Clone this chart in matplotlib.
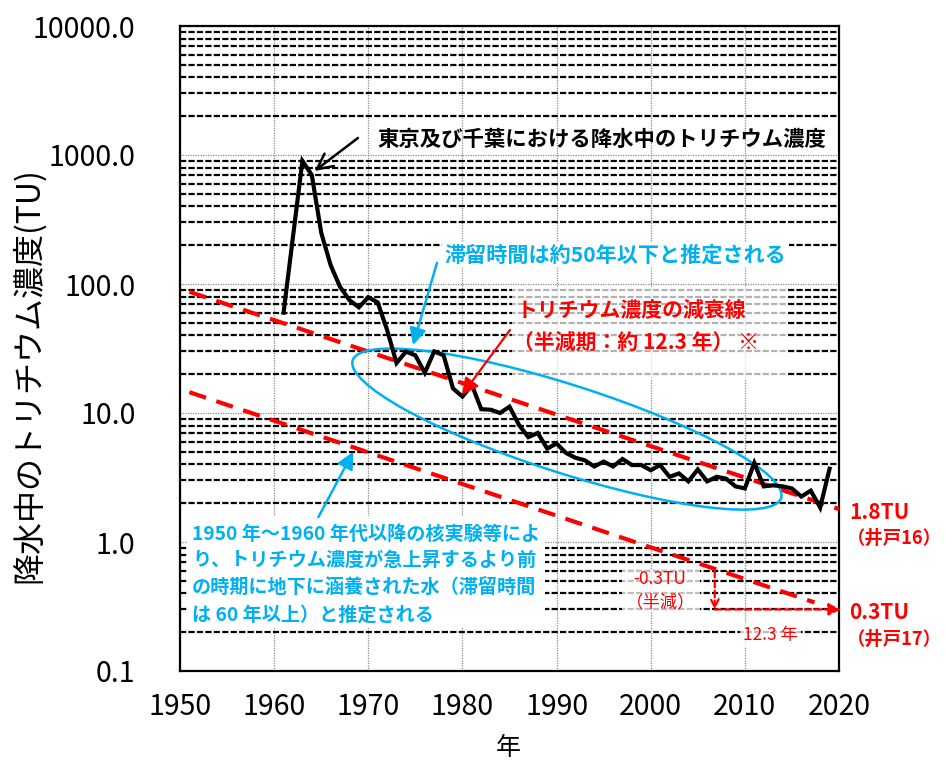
import numpy as np
import matplotlib
matplotlib.use('Agg')
import matplotlib.pyplot as plt
from matplotlib.patches import Ellipse, Rectangle
from matplotlib.transforms import IdentityTransform
from matplotlib.ticker import FixedLocator, FixedFormatter, NullFormatter, LogLocator

plt.rcParams['font.family'] = ['Noto Sans CJK JP', 'DejaVu Sans']

# ---- data ----
years = [1961, 1963, 1964, 1965, 1966, 1967, 1968, 1969, 1970, 1971,
         1972, 1973, 1974, 1975, 1976, 1977, 1978, 1979, 1980, 1981,
         1982, 1983, 1984, 1985, 1986, 1987, 1988, 1989, 1990, 1991,
         1992, 1993, 1994, 1995, 1996, 1997, 1998, 1999, 2000, 2001,
         2002, 2003, 2004, 2005, 2006, 2007, 2008, 2009, 2010, 2011,
         2012, 2013, 2014, 2015, 2016, 2017, 2018, 2019]
tritium = [60, 900, 700, 250, 140, 95, 75, 66, 79, 72,
           44, 24.4, 29.9, 28, 20.5, 30, 28, 15.5, 13.4, 16.5,
           10.7, 10.6, 10.0, 11.2, 8.1, 6.5, 7.0, 5.3, 5.8, 4.9,
           4.5, 4.3, 3.85, 4.2, 3.85, 4.4, 3.95, 3.95, 3.6, 3.95,
           3.2, 3.4, 2.95, 3.65, 2.95, 3.2, 3.1, 2.7, 2.6, 4.1,
           2.7, 2.75, 2.7, 2.6, 2.25, 2.5, 1.85, 3.7]

decay16_years = [1951, 2020]
decay16_tu = [87, 1.8]
decay17_years = [1951, 2017.4]
decay17_tu = [14.5, 0.34]

ytick_vals = [0.1, 1, 10, 100, 1000, 10000]
ytick_labels = ["0.1", "1.0", "10.0", "100.0", "1000.0", "10000.0"]
xtick_vals = [1950, 1960, 1970, 1980, 1990, 2000, 2010, 2020]
xtick_labels = ["1950", "1960", "1970", "1980", "1990", "2000", "2010", "2020"]

BLUE = '#00B0F0'
RED = '#FF0000'

W, H = 946, 763
fig = plt.figure(figsize=(W / 100, H / 100), dpi=100)
ax = fig.add_axes([180 / W, 1 - 671 / H, (839 - 180) / W, (671 - 26) / H])
ax.set_yscale('log')
ax.set_xlim(1950, 2020)
ax.set_ylim(0.1, 10000)

ax.yaxis.set_major_locator(FixedLocator(ytick_vals))
ax.yaxis.set_major_formatter(FixedFormatter(ytick_labels))
ax.yaxis.set_minor_locator(LogLocator(base=10, subs=np.arange(2, 10)))
ax.yaxis.set_minor_formatter(NullFormatter())
ax.xaxis.set_major_locator(FixedLocator(xtick_vals))
ax.xaxis.set_major_formatter(FixedFormatter(xtick_labels))

ax.tick_params(axis='both', which='both', length=0)
ax.tick_params(axis='y', pad=32, labelsize=20.5)
ax.tick_params(axis='x', pad=15, labelsize=20.5)

ax.set_axisbelow(True)
ax.grid(which='minor', axis='y', color='black', linestyle=(0, (2.8, 1.0)), lw=1.6)
ax.grid(which='major', axis='y', color='#888888', linestyle=(0, (1, 1)), lw=0.9)
ax.grid(which='major', axis='x', color='#888888', linestyle=(0, (1, 1)), lw=0.9)
for s in ax.spines.values():
    s.set_linewidth(1.6)
    s.set_color('black')

# decay lines
ax.plot(decay16_years, decay16_tu, color=RED, lw=3, linestyle=(0, (4.2, 2.6)), zorder=3)
ax.plot(decay17_years, decay17_tu, color=RED, lw=3, linestyle=(0, (4.2, 2.6)), zorder=3)

# data line
ax.plot(years, tritium, color='black', lw=3, zorder=5, solid_joinstyle='miter')

# white box behind lower-left note
ax.add_patch(Rectangle((1950.7, 0.215), 1988.8 - 1950.7, 1.58 - 0.215,
                       facecolor='white', edgecolor='none', zorder=2))
note_lines = ["1950 年～1960 年代以降の核実験等によ",
              "り、トリチウム濃度が急上昇するより前",
              "の時期に地下に涵養された水（滞留時間",
              "は 60 年以上）と推定される"]
note_y = [1.15, 0.72, 0.44, 0.272]
for t, yv in zip(note_lines, note_y):
    ax.text(1951.3, yv, t, color=BLUE, fontsize=13.8, fontweight='bold',
            va='center', ha='left', zorder=6)

# red text box
ax.add_patch(Rectangle((1985.3, 18.5), 2014.5 - 1985.3, 94.5 - 18.5,
                       facecolor='white', edgecolor='none', alpha=0.7, zorder=2))
ax.text(1985.8, 62.8, "トリチウム濃度の減衰線", color=RED, fontsize=15,
        fontweight='bold', va='center', ha='left', zorder=6)
ax.text(1985.4, 35.5, "（半減期：約 12.3 年） ※", color=RED, fontsize=15,
        fontweight='bold', va='center', ha='left', zorder=6)

# black title annotation
ax.text(1971.0, 1330, "東京及び千葉における降水中のトリチウム濃度", color='black',
        fontsize=15.4, fontweight='bold', va='center', ha='left', zorder=6)
ax.annotate('', xy=(1964.3, 752), xytext=(1968.9, 1355),
            arrowprops=dict(arrowstyle='->', color='black', lw=1.8,
                            mutation_scale=28, shrinkA=0, shrinkB=0), zorder=6)

# blue retention-time annotation
ax.text(1978.1, 168, "滞留時間は約50年以下と推定される", color=BLUE, fontsize=15.2,
        fontweight='bold', va='center', ha='left', zorder=6,
        bbox=dict(facecolor='white', edgecolor='none', pad=2))
ax.annotate('', xy=(1974.75, 33.6), xytext=(1977.3, 146),
            arrowprops=dict(arrowstyle='-|>', color=BLUE, lw=1.8,
                            mutation_scale=25, shrinkA=0, shrinkB=0), zorder=6)
ax.annotate('', xy=(1968.4, 5.0), xytext=(1964.7, 1.56),
            arrowprops=dict(arrowstyle='-|>', color=BLUE, lw=1.8,
                            mutation_scale=25, shrinkA=0, shrinkB=0), zorder=6)
ax.annotate('', xy=(1979.95, 13.8), xytext=(1985.05, 44),
            arrowprops=dict(arrowstyle='-|>', color=RED, lw=1.6,
                            mutation_scale=25, shrinkA=0, shrinkB=0), zorder=6)

# half-life illustration
ax.annotate('', xy=(2006.8, 0.3), xytext=(2006.8, 0.6),
            arrowprops=dict(arrowstyle='->', color=RED, lw=1.6, linestyle=(0, (3, 1.5)),
                            mutation_scale=14, shrinkA=0, shrinkB=0), zorder=6)
ax.annotate('', xy=(2020.2, 0.3), xytext=(2006.8, 0.3),
            arrowprops=dict(arrowstyle='-|>', color=RED, lw=1.6, linestyle=(0, (3, 1.5)),
                            mutation_scale=18, shrinkA=0, shrinkB=0), zorder=6,
            annotation_clip=False)
ax.add_patch(Rectangle((1997.0, 0.292), 2005.2 - 1997.0, 0.607 - 0.292,
                       facecolor='white', edgecolor='none', alpha=0.75, zorder=2))
ax.text(1998.1, 0.517, "-0.3TU", color=RED, fontsize=12.5, va='center', ha='left', zorder=6)
ax.text(1997.4, 0.343, "（半減）", color=RED, fontsize=12.5, va='center', ha='left', zorder=6)
ax.text(2009.8, 0.19, "12.3 年", color=RED, fontsize=12.5, va='center', ha='left', zorder=6,
        bbox=dict(facecolor='white', edgecolor='none', alpha=0.75, pad=2))

# right side labels
ax.text(2021.1, 1.68, "1.8TU", color=RED, fontsize=15, fontweight='bold',
        va='center', ha='left', clip_on=False)
ax.text(2020.8, 1.07, "（井戸16）", color=RED, fontsize=13.2, fontweight='bold',
        va='center', ha='left', clip_on=False)
ax.text(2021.1, 0.285, "0.3TU", color=RED, fontsize=15, fontweight='bold',
        va='center', ha='left', clip_on=False)
ax.text(2020.8, 0.176, "（井戸17）", color=RED, fontsize=13.2, fontweight='bold',
        va='center', ha='left', clip_on=False)

# ellipse (drawn in pixel space so it stays a true ellipse on the log axis)
cx, cy = ax.transData.transform((1991.1, 7.5))
ax.add_patch(Ellipse((cx, cy), 450, 88, angle=-17.8, fill=False, edgecolor=BLUE,
                     lw=1.8, transform=IdentityTransform(), zorder=4))

# axis labels
fig.text(28 / W, 1 - 375 / H, "降水中のトリチウム濃度(TU)", rotation=90,
         fontsize=23, va='center', ha='center')
fig.text(508 / W, 1 - 748 / H, "年", fontsize=18, va='center', ha='center')

fig.savefig('out.png', dpi=100)
